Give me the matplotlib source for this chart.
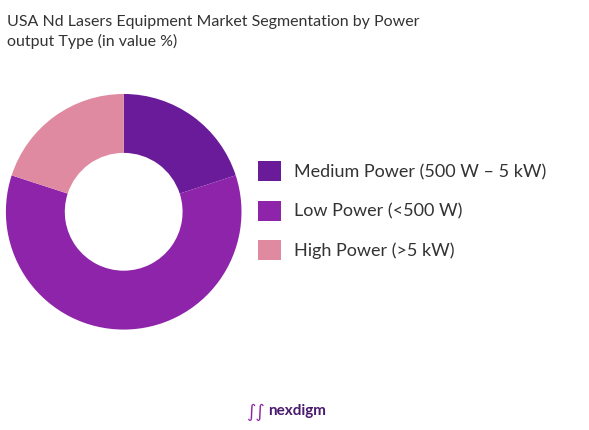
import matplotlib.pyplot as plt

labels = ["Medium Power (500 W – 5 kW)", "Low Power (<500 W)", "High Power (>5 kW)"]
values = [20, 60, 20]
colors = ["#6a1b9a", "#8e24aa", "#df8aa0"]

fig = plt.figure(figsize=(5.89, 4.30), dpi=100)
ax = fig.add_axes([0.010, 0.233, 0.400, 0.549])
wedges, _ = ax.pie(values, colors=colors, startangle=90, counterclock=False,
                   wedgeprops=dict(width=0.5))
ax.set_xlim(-1, 1); ax.set_ylim(-1, 1)
ax.set_aspect('equal')
fig.text(0.012, 0.965, "USA Nd Lasers Equipment Market Segmentation by Power\noutput Type (in value %)",
         fontsize=11.5, family="Lato", color="#333333", va="top", linespacing=1.4)
fig.legend(wedges, labels, loc="center left", bbox_to_anchor=(0.41, 0.51), frameon=False,
           prop={"family": "Lato", "size": 13}, handlelength=1.3, handleheight=1.3,
           labelspacing=1.1, labelcolor="#333333", handletextpad=0.7)
fig.text(0.455, 0.035, "nexdigm", fontsize=11, family="Lato", weight="bold", color="#4a1a6e")
fig.text(0.418, 0.03, "\u222b\u222b", fontsize=13, color="#8e24aa")
fig.savefig("out.png", dpi=100)
